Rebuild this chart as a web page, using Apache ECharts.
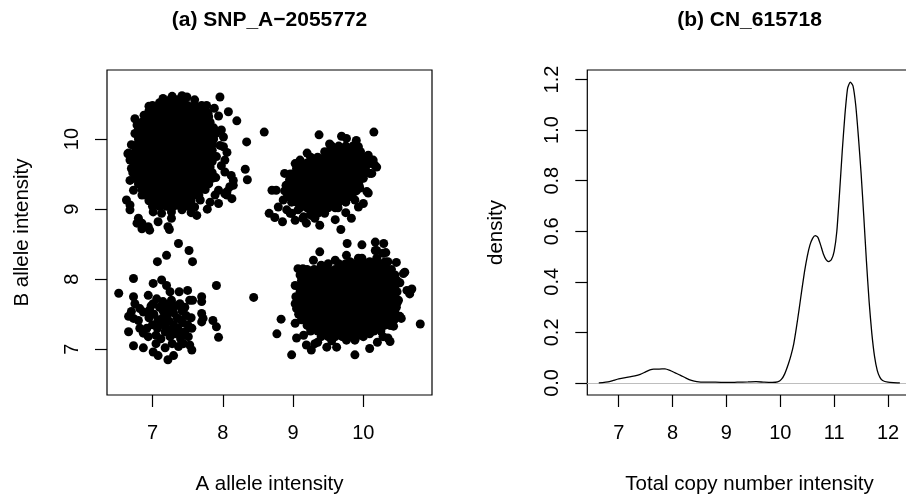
<!DOCTYPE html>
<html>
<head>
<meta charset="utf-8">
<title>SNP_A-2055772 / CN_615718</title>
<script src="https://cdn.jsdelivr.net/npm/echarts@6.0.0/dist/echarts.min.js"></script>
<style>
body { margin: 0; background: #fff; }
#main { width: 906px; height: 500px; }
</style>
</head>
<body>
<div id="main"></div>
<script>
var FONT = '"Liberation Sans", Arial, Helvetica, sans-serif';

//刻度
var snpTicks = [7, 8, 9, 10];
var cnTicksX = [7, 8, 9, 10, 11, 12];
var cnTicksY = [0, 0.2, 0.4, 0.6, 0.8, 1.0, 1.2];

//三个密集簇的实心区，按行记录 [B值, [A值...]]
var coreTopLeft = [
	[10.56, [7.25, 7.35, 7.45]],
	[10.48, [7.0, 7.1, 7.2, 7.3, 7.4, 7.5, 7.6, 7.7]],
	[10.40, [6.95, 7.05, 7.15, 7.25, 7.35, 7.45, 7.55, 7.65, 7.75]],
	[10.32, [6.9, 7.0, 7.1, 7.2, 7.3, 7.4, 7.5, 7.6, 7.7, 7.8]],
	[10.24, [6.85, 6.95, 7.05, 7.15, 7.25, 7.35, 7.45, 7.55, 7.65, 7.75, 7.82]],
	[10.16, [6.8, 6.9, 7.0, 7.1, 7.2, 7.3, 7.4, 7.5, 7.6, 7.7, 7.8, 7.87]],
	[10.08, [6.8, 6.85, 6.95, 7.05, 7.15, 7.25, 7.35, 7.45, 7.55, 7.65, 7.75, 7.85, 7.9]],
	[10.00, [6.8, 6.9, 7.0, 7.1, 7.2, 7.3, 7.4, 7.5, 7.6, 7.7, 7.8, 7.87]],
	[9.92, [6.78, 6.85, 6.95, 7.05, 7.15, 7.25, 7.35, 7.45, 7.55, 7.65, 7.75, 7.85]],
	[9.84, [6.76, 6.8, 6.9, 7.0, 7.1, 7.2, 7.3, 7.4, 7.5, 7.6, 7.7, 7.8, 7.85]],
	[9.76, [6.75, 6.85, 6.95, 7.05, 7.15, 7.25, 7.35, 7.45, 7.55, 7.65, 7.75, 7.85]],
	[9.68, [6.72, 6.8, 6.9, 7.0, 7.1, 7.2, 7.3, 7.4, 7.5, 7.6, 7.7, 7.8, 7.85]],
	[9.60, [6.75, 6.85, 6.95, 7.05, 7.15, 7.25, 7.35, 7.45, 7.55, 7.65, 7.75, 7.82]],
	[9.52, [6.72, 6.8, 6.9, 7.0, 7.1, 7.2, 7.3, 7.4, 7.5, 7.6, 7.7, 7.8, 7.85]],
	[9.44, [6.75, 6.85, 6.95, 7.05, 7.15, 7.25, 7.35, 7.45, 7.55, 7.65, 7.75, 7.85]],
	[9.36, [6.8, 6.9, 7.0, 7.1, 7.2, 7.3, 7.4, 7.5, 7.6, 7.7, 7.8]],
	[9.28, [6.85, 6.95, 7.05, 7.15, 7.25, 7.35, 7.45, 7.55, 7.65, 7.75]],
	[9.20, [6.85, 6.9, 7.0, 7.1, 7.2, 7.3, 7.4, 7.5, 7.6, 7.66]],
	[9.12, [6.95, 7.05, 7.15, 7.25, 7.35, 7.45, 7.55]],
	[9.04, [7.0, 7.1, 7.2, 7.3, 7.4, 7.5]]
];
var coreTopRight = [
	[9.90, [9.55, 9.65, 9.75, 9.85]],
	[9.82, [9.45, 9.5, 9.6, 9.7, 9.8, 9.9, 9.96]],
	[9.74, [9.25, 9.35, 9.45, 9.55, 9.65, 9.75, 9.85, 9.95, 10.02]],
	[9.66, [9.1, 9.2, 9.3, 9.4, 9.5, 9.6, 9.7, 9.8, 9.9, 10.0, 10.04]],
	[9.58, [9.05, 9.15, 9.25, 9.35, 9.45, 9.55, 9.65, 9.75, 9.85, 9.95, 10.03]],
	[9.50, [8.96, 9.0, 9.1, 9.2, 9.3, 9.4, 9.5, 9.6, 9.7, 9.8, 9.9, 10.0]],
	[9.42, [8.95, 9.05, 9.15, 9.25, 9.35, 9.45, 9.55, 9.65, 9.75, 9.85, 9.95]],
	[9.34, [8.9, 9.0, 9.1, 9.2, 9.3, 9.4, 9.5, 9.6, 9.7, 9.8, 9.9, 9.94]],
	[9.26, [8.88, 8.95, 9.05, 9.15, 9.25, 9.35, 9.45, 9.55, 9.65, 9.75, 9.85, 9.9]],
	[9.18, [8.92, 9.0, 9.1, 9.2, 9.3, 9.4, 9.5, 9.6, 9.7, 9.8, 9.84]],
	[9.10, [8.98, 9.05, 9.15, 9.25, 9.35, 9.45, 9.55, 9.65, 9.75]],
	[9.02, [9.1, 9.2, 9.3, 9.4, 9.5, 9.6, 9.64]],
	[8.94, [9.25, 9.35, 9.45]]
];
var coreBottomRight = [
	[8.22, [9.65, 9.75, 9.85, 9.95, 10.05, 10.15, 10.25, 10.32]],
	[8.14, [9.2, 9.3, 9.4, 9.5, 9.6, 9.7, 9.8, 9.9, 10.0, 10.1, 10.2, 10.3, 10.4]],
	[8.06, [9.15, 9.25, 9.35, 9.45, 9.55, 9.65, 9.75, 9.85, 9.95, 10.05, 10.15, 10.25, 10.35, 10.45]],
	[7.98, [9.12, 9.2, 9.3, 9.4, 9.5, 9.6, 9.7, 9.8, 9.9, 10.0, 10.1, 10.2, 10.3, 10.4, 10.48]],
	[7.90, [9.08, 9.15, 9.25, 9.35, 9.45, 9.55, 9.65, 9.75, 9.85, 9.95, 10.05, 10.15, 10.25, 10.35, 10.45]],
	[7.82, [9.1, 9.2, 9.3, 9.4, 9.5, 9.6, 9.7, 9.8, 9.9, 10.0, 10.1, 10.2, 10.3, 10.4, 10.48]],
	[7.74, [9.06, 9.15, 9.25, 9.35, 9.45, 9.55, 9.65, 9.75, 9.85, 9.95, 10.05, 10.15, 10.25, 10.35, 10.45]],
	[7.66, [9.05, 9.1, 9.2, 9.3, 9.4, 9.5, 9.6, 9.7, 9.8, 9.9, 10.0, 10.1, 10.2, 10.3, 10.4, 10.48]],
	[7.58, [9.05, 9.15, 9.25, 9.35, 9.45, 9.55, 9.65, 9.75, 9.85, 9.95, 10.05, 10.15, 10.25, 10.35, 10.45]],
	[7.50, [9.08, 9.1, 9.2, 9.3, 9.4, 9.5, 9.6, 9.7, 9.8, 9.9, 10.0, 10.1, 10.2, 10.3, 10.4, 10.46]],
	[7.42, [9.12, 9.15, 9.25, 9.35, 9.45, 9.55, 9.65, 9.75, 9.85, 9.95, 10.05, 10.15, 10.25, 10.35, 10.44]],
	[7.34, [9.2, 9.3, 9.4, 9.5, 9.6, 9.7, 9.8, 9.9, 10.0, 10.1, 10.2, 10.3, 10.38]],
	[7.26, [9.25, 9.35, 9.45, 9.55, 9.65, 9.75, 9.85, 9.95, 10.05, 10.15, 10.25]],
	[7.18, [9.4, 9.5, 9.6, 9.7, 9.8, 9.9, 10.0]]
];

//散落的点 [A, B]
var pointsTopLeft = [
	[7.28, 10.61], [7.42, 10.62], [7.49, 10.60], [7.96, 10.60], [7.10, 10.52], [6.95, 10.47], [6.88, 10.34], [6.75, 10.29],
	[7.77, 10.48], [7.79, 10.37], [7.94, 10.33], [8.08, 10.39], [8.20, 10.26], [8.34, 9.96], [6.65, 9.79], [8.06, 9.81],
	[7.96, 9.91], [7.98, 10.13], [8.01, 10.03], [7.91, 9.75], [8.32, 9.57], [8.35, 9.42], [8.15, 9.41], [8.10, 9.32],
	[8.03, 9.22], [8.13, 9.15], [8.06, 9.20], [7.94, 9.27], [7.89, 9.20], [7.94, 9.08], [7.82, 9.10], [7.63, 8.91],
	[7.60, 9.03], [7.68, 9.13], [7.42, 8.99], [7.27, 8.96], [7.27, 8.87], [7.22, 8.75], [7.24, 8.71], [7.08, 8.82],
	[6.96, 8.70], [6.94, 8.75], [6.85, 8.72], [6.85, 8.80], [6.78, 8.80], [6.80, 8.87], [6.68, 9.06], [6.68, 8.99],
	[6.63, 9.13], [6.66, 9.80], [6.70, 9.58], [6.68, 9.41], [6.73, 9.27], [6.75, 10.08], [6.78, 10.20], [7.01, 8.96],
	[7.13, 8.94], [8.15, 9.34], [8.59, 10.10], [8.06, 9.25], [8.01, 9.89], [8.03, 9.70], [8.03, 9.53], [8.12, 9.48],
	[7.98, 9.62], [7.90, 9.45], [7.88, 10.44], [7.60, 10.56], [7.15, 10.58], [6.70, 9.92], [6.68, 9.70], [7.78, 9.00],
	[7.55, 8.95]
];
var pointsTopRight = [
	[9.37, 10.06], [10.15, 10.10], [9.69, 10.04], [9.76, 10.01], [9.52, 9.93], [9.93, 9.89], [10.07, 9.77], [10.09, 9.65],
	[10.16, 9.63], [10.14, 9.70], [10.19, 9.60], [10.12, 9.51], [8.88, 9.51], [9.03, 9.65], [9.10, 9.70], [8.70, 9.27],
	[8.76, 9.27], [8.66, 8.94], [8.74, 8.88], [8.85, 8.82], [8.96, 8.94], [9.03, 8.84], [9.15, 8.89], [9.19, 8.80],
	[9.31, 8.87], [9.38, 8.77], [9.68, 8.71], [9.83, 8.87], [10.07, 9.23], [10.00, 9.08], [9.88, 9.13], [10.00, 9.44],
	[9.95, 9.30], [10.09, 9.51], [10.05, 9.25], [9.93, 9.03], [8.86, 9.13], [8.79, 9.03], [8.91, 8.99], [8.98, 8.94],
	[9.07, 8.99], [9.14, 8.87], [9.26, 8.91], [9.20, 9.80], [9.90, 9.98], [9.60, 8.85], [9.75, 8.95]
];
var pointsBottomLeft = [
	[7.37, 8.51], [7.52, 8.41], [7.57, 8.25], [7.20, 8.34], [7.07, 8.25], [6.73, 8.01], [7.91, 7.91], [7.01, 7.94],
	[7.13, 7.99], [7.20, 7.91], [6.52, 7.80], [6.73, 7.75], [6.94, 7.77], [7.06, 7.72], [7.25, 7.82], [7.38, 7.82],
	[7.50, 7.84], [7.57, 7.70], [7.70, 7.75], [7.70, 7.68], [6.75, 7.65], [6.82, 7.58], [6.87, 7.53], [6.96, 7.56],
	[7.01, 7.65], [7.15, 7.68], [7.27, 7.70], [7.39, 7.65], [6.70, 7.54], [6.66, 7.47], [6.73, 7.44], [6.80, 7.41],
	[7.70, 7.51], [7.72, 7.44], [7.70, 7.39], [7.86, 7.41], [7.91, 7.32], [7.94, 7.17], [6.66, 7.25], [6.82, 7.30],
	[6.87, 7.23], [6.94, 7.18], [6.73, 7.05], [6.87, 7.02], [7.01, 6.96], [7.08, 6.91], [7.22, 6.85], [7.30, 6.91],
	[7.37, 7.04], [7.44, 7.08], [7.53, 7.06], [7.56, 6.99], [7.51, 7.18], [7.39, 7.23], [7.56, 7.30], [7.53, 7.70],
	[6.95, 7.45], [7.02, 7.50], [7.08, 7.42], [7.15, 7.55], [7.20, 7.47], [7.25, 7.60], [7.30, 7.52], [7.35, 7.45],
	[7.42, 7.55], [7.48, 7.48], [7.00, 7.35], [7.07, 7.30], [7.12, 7.38], [7.18, 7.33], [7.24, 7.40], [7.30, 7.35],
	[7.36, 7.30], [7.43, 7.38], [7.50, 7.35], [7.05, 7.20], [7.12, 7.15], [7.18, 7.25], [7.25, 7.18], [7.32, 7.22],
	[7.40, 7.15], [7.46, 7.25], [7.10, 7.60], [7.20, 7.63], [7.33, 7.62], [6.98, 7.62], [7.27, 7.28], [7.22, 7.52],
	[7.15, 7.45], [7.40, 7.42], [7.05, 7.08], [7.28, 7.08], [7.18, 7.02], [7.46, 7.60], [6.92, 7.30], [7.55, 7.45]
];
var pointsBottomRight = [
	[9.76, 8.34], [9.98, 8.30], [10.19, 8.41], [10.28, 8.37], [9.77, 8.51], [9.98, 8.49], [10.17, 8.53], [10.29, 8.51],
	[10.17, 8.41], [10.32, 8.38], [9.38, 8.39], [9.29, 8.27], [9.07, 8.15], [9.10, 8.06], [9.19, 8.06], [9.03, 7.91],
	[9.04, 7.75], [9.03, 7.65], [8.83, 7.43], [8.77, 7.22], [8.98, 6.92], [9.05, 7.16], [9.03, 7.37], [9.19, 7.06],
	[9.26, 6.99], [9.31, 7.08], [9.48, 7.03], [9.62, 7.03], [9.76, 7.13], [9.88, 7.13], [9.90, 7.22], [9.88, 6.92],
	[10.09, 7.01], [10.28, 7.18], [10.38, 7.11], [10.09, 7.22], [10.21, 7.32], [10.59, 8.10], [10.47, 8.24], [10.52, 7.95],
	[10.69, 7.86], [10.66, 7.79], [10.81, 7.36], [10.54, 7.44], [10.47, 7.60], [10.50, 7.70], [10.62, 7.84], [10.57, 8.08],
	[10.35, 8.25], [10.52, 7.47], [10.43, 7.33], [10.35, 7.16], [9.60, 8.27], [9.81, 8.25], [9.93, 8.30], [10.09, 8.25],
	[10.19, 8.30], [10.31, 8.25], [9.14, 8.15], [9.50, 8.22], [9.40, 8.20], [8.44, 7.74], [9.15, 7.20], [9.35, 7.10],
	[9.55, 7.12], [10.20, 7.10]
];

//拷贝数密度曲线
var densityX = [6.63, 6.70, 6.80, 6.90, 7.00, 7.10, 7.20, 7.30, 7.40, 7.50, 7.58, 7.65, 7.75, 7.86, 7.95,
	8.05, 8.15, 8.25, 8.35, 8.45, 8.60, 8.80, 9.00, 9.20, 9.40, 9.55, 9.70, 9.85, 9.95, 10.02,
	10.08, 10.15, 10.20, 10.25, 10.30, 10.35, 10.40, 10.45, 10.50, 10.55, 10.60, 10.65, 10.70, 10.75, 10.80,
	10.85, 10.90, 10.95, 11.00, 11.05, 11.10, 11.15, 11.20, 11.25, 11.30, 11.35, 11.40, 11.45, 11.50, 11.55,
	11.60, 11.65, 11.70, 11.75, 11.80, 11.85, 11.90, 12.00, 12.10, 12.22];
var densityY = [0, 0.001, 0.004, 0.010, 0.016, 0.020, 0.024, 0.028, 0.034, 0.044, 0.052, 0.055, 0.055, 0.056, 0.050,
	0.040, 0.030, 0.019, 0.010, 0.005, 0.003, 0.003, 0.002, 0.003, 0.004, 0.005, 0.003, 0.002, 0.004, 0.014,
	0.035, 0.075, 0.110, 0.155, 0.220, 0.292, 0.368, 0.440, 0.500, 0.545, 0.572, 0.583, 0.575, 0.545, 0.510,
	0.488, 0.480, 0.488, 0.520, 0.600, 0.750, 0.915, 1.060, 1.165, 1.190, 1.175, 1.100, 0.975, 0.830, 0.660,
	0.480, 0.320, 0.195, 0.105, 0.050, 0.022, 0.010, 0.003, 0.001, 0];

function rowsToPoints(rows) {
	var out = [];
	for(var i = 0; i < rows.length; i++) {
		for(var j = 0; j < rows[i][1].length; j++) {
			out.push([rows[i][1][j], rows[i][0]]);
		}
	}
	return out;
}

var snpData = rowsToPoints(coreTopLeft)
	.concat(rowsToPoints(coreTopRight))
	.concat(rowsToPoints(coreBottomRight))
	.concat(pointsTopLeft, pointsTopRight, pointsBottomLeft, pointsBottomRight);

var densityData = [];
for(var k = 0; k < densityX.length; k++) {
	densityData.push([densityX[k], densityY[k]]);
}

var txt = { color: '#000', fontFamily: FONT, fontSize: 20.5 };

function makeAxis(grid, lo, hi, ticks, name, gap, isY, fmt) {
	return {
		gridIndex: grid,
		type: 'value',
		min: lo,
		max: hi,
		name: name,
		nameLocation: 'middle',
		nameGap: gap,
		nameMoveOverlap: false,
		nameTextStyle: txt,
		axisLine: { show: false, onZero: false },
		splitLine: { show: false },
		axisTick: {
			show: true,
			length: 12,
			customValues: ticks,
			lineStyle: { color: '#000', width: 1.2 }
		},
		axisLabel: {
			customValues: ticks,
			rotate: isY ? 90 : 0,
			margin: isY ? 25 : 28,
			color: '#000',
			fontFamily: FONT,
			fontSize: 20,
			formatter: fmt
		}
	};
}

var myChart = echarts.init(document.getElementById('main'));
var option = {
	backgroundColor: '#fff',
	animation: false,
	title: [{
		text: '(a) SNP_A\u22122055772',
		left: 269.5,
		top: 10,
		padding: 0,
		textAlign: 'center',
		textStyle: { color: '#000', fontFamily: FONT, fontSize: 21, fontWeight: 'bold' }
	}, {
		text: '(b) CN_615718',
		left: 749.5,
		top: 10,
		padding: 0,
		textAlign: 'center',
		textStyle: { color: '#000', fontFamily: FONT, fontSize: 21, fontWeight: 'bold' }
	}],
	grid: [{
		left: 107, top: 70, width: 325, height: 325,
		containLabel: false, outerBoundsMode: 'none',
		show: true, borderColor: '#000', borderWidth: 1.2, backgroundColor: 'transparent'
	}, {
		left: 587.3, top: 70, width: 324.4, height: 325,
		containLabel: false, outerBoundsMode: 'none',
		show: true, borderColor: '#000', borderWidth: 1.2, backgroundColor: 'transparent'
	}],
	xAxis: [
		makeAxis(0, 6.353, 10.977, snpTicks, 'A allele intensity', 79, false),
		makeAxis(1, 6.417, 12.44, cnTicksX, 'Total copy number intensity', 79, false)
	],
	yAxis: [
		makeAxis(0, 6.347, 10.986, snpTicks, 'B allele intensity', 74, true),
		makeAxis(1, -0.0476, 1.2376, cnTicksY, 'density', 80, true, function(v) {
			return v.toFixed(1);
		})
	],
	series: [{
		type: 'scatter',
		xAxisIndex: 0,
		yAxisIndex: 0,
		data: snpData,
		symbol: 'circle',
		symbolSize: 9,
		silent: true,
		itemStyle: { color: '#000', opacity: 1 },
		emphasis: { disabled: true }
	}, {
		type: 'line',
		xAxisIndex: 1,
		yAxisIndex: 1,
		data: densityData,
		showSymbol: false,
		symbol: 'none',
		smooth: 0.2,
		silent: true,
		z: 3,
		lineStyle: { color: '#000', width: 1.3 },
		markLine: {
			silent: true,
			z: 1,
			symbol: ['none', 'none'],
			label: { show: false },
			lineStyle: { color: '#BEBEBE', type: 'solid', width: 1 },
			data: [{ yAxis: 0 }]
		}
	}]
};
myChart.setOption(option);
</script>
</body>
</html>
